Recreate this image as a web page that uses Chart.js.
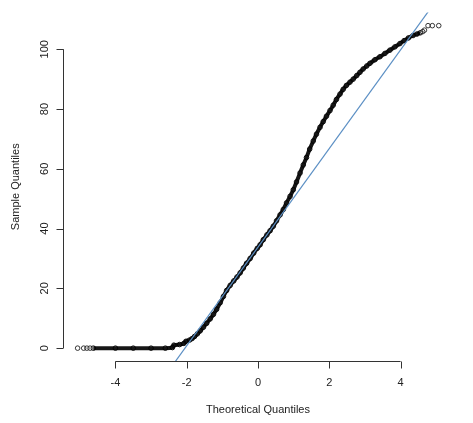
<!DOCTYPE html>
<html>
<head>
<meta charset="utf-8">
<script src="https://cdn.jsdelivr.net/npm/chart.js@4.4.1/dist/chart.umd.min.js"></script>
<style>
  body { margin: 0; background: #fff; }
  #box { width: 473px; height: 423px; position: relative; }
</style>
</head>
<body>
<div id="box"><canvas id="qq-chart"></canvas></div>
<script>
// theoretical quantiles / sample quantiles
const theoretical = [
  -4.62, -4.0, -3.5, -3.0, -2.6, -2.40, -2.36, -2.2, -2.08, -2.02,
  -1.92, -1.85, -1.78, -1.70, -1.62, -1.53, -1.44, -1.34, -1.25, -1.16,
  -1.06, -0.97, -0.88, -0.78, -0.68, -0.59, -0.50, -0.41, -0.32, -0.22,
  -0.12, -0.02, 0.06, 0.15, 0.25, 0.34, 0.43, 0.52, 0.62, 0.71,
  0.80, 0.90, 0.99, 1.08, 1.18, 1.27, 1.36, 1.45, 1.55, 1.64,
  1.74, 1.83, 1.92, 2.02, 2.11, 2.20, 2.30, 2.39, 2.48, 2.58,
  2.67, 2.77, 2.86, 2.95, 3.05, 3.14, 3.28, 3.42, 3.56, 3.70,
  3.84, 3.98, 4.10, 4.22, 4.35, 4.46, 4.55
];
const sample = [
  0, 0, 0, 0, 0, 0.2, 1.0, 1.2, 1.6, 2.3,
  2.7, 3.2, 3.9, 4.8, 5.8, 7.0, 8.3, 9.8, 11.3, 13.0,
  15.2, 17.3, 19.3, 21.0, 22.5, 23.8, 25.2, 26.8, 28.4, 30.0,
  31.8, 33.4, 34.6, 36.3, 37.9, 39.3, 40.8, 42.6, 44.6, 46.4,
  48.6, 50.8, 53.0, 55.6, 58.6, 61.3, 63.8, 66.6, 69.3, 71.6,
  73.9, 75.8, 77.6, 79.5, 81.3, 83.2, 85.0, 86.6, 87.9, 89.0,
  90.0, 91.2, 92.3, 93.4, 94.4, 95.3, 96.5, 97.5, 98.6, 99.7,
  100.8, 101.9, 102.9, 103.8, 104.6, 105.1, 105.5
];

// the few loose points at both ends
const tailX = [-5.06, -4.89, -4.80, -4.71, 4.62, 4.67, 4.77, 4.89, 5.07];
const tailY = [0, 0, 0, 0, 105.9, 106.4, 107.9, 107.9, 107.9];

// qqline end points
const lineX = [-2.6, 5.0];
const lineY = [-9.1, 116.3];

const xTicks = [-4, -2, 0, 2, 4];
const yTicks = [0, 20, 40, 60, 80, 100];

const toPoints = (xs, ys) => xs.map((x, i) => ({ x: x, y: ys[i] }));

const fontName = "'Liberation Sans', Arial, sans-serif";

// R style axes: line only between the first and last tick
const rAxes = {
  id: "rAxes",
  afterDraw(chart) {
    const ctx = chart.ctx;
    const area = chart.chartArea;
    const xs = chart.scales.x;
    const ys = chart.scales.y;
    ctx.save();
    ctx.strokeStyle = "#333";
    ctx.fillStyle = "#222";
    ctx.lineWidth = 1;
    ctx.font = "11px " + fontName;

    // x axis
    const xb = Math.round(area.bottom) + 0.5;
    ctx.beginPath();
    ctx.moveTo(xs.getPixelForValue(xTicks[0]), xb);
    ctx.lineTo(xs.getPixelForValue(xTicks[xTicks.length - 1]), xb);
    xTicks.forEach((t) => {
      const px = Math.round(xs.getPixelForValue(t)) + 0.5;
      ctx.moveTo(px, xb);
      ctx.lineTo(px, xb + 7);
    });
    ctx.stroke();
    ctx.textAlign = "center";
    ctx.textBaseline = "middle";
    xTicks.forEach((t) => {
      ctx.fillText(String(t), xs.getPixelForValue(t), xb + 21);
    });
    ctx.fillText("Theoretical Quantiles", (area.left + area.right) / 2, xb + 48);

    // y axis
    const yl = Math.round(area.left) + 0.5;
    ctx.beginPath();
    ctx.moveTo(yl, ys.getPixelForValue(yTicks[0]));
    ctx.lineTo(yl, ys.getPixelForValue(yTicks[yTicks.length - 1]));
    yTicks.forEach((t) => {
      const py = Math.round(ys.getPixelForValue(t)) + 0.5;
      ctx.moveTo(yl, py);
      ctx.lineTo(yl - 7, py);
    });
    ctx.stroke();
    yTicks.forEach((t) => {
      ctx.save();
      ctx.translate(yl - 19, ys.getPixelForValue(t));
      ctx.rotate(-Math.PI / 2);
      ctx.fillText(String(t), 0, 0);
      ctx.restore();
    });
    ctx.save();
    ctx.translate(16, (area.top + area.bottom) / 2);
    ctx.rotate(-Math.PI / 2);
    ctx.fillText("Sample Quantiles", 0, 0);
    ctx.restore();

    ctx.restore();
  },
};

const containerQQ = document.querySelector("#qq-chart").getContext("2d");

const qqChart = new Chart(containerQQ, {
  type: "scatter",
  data: {
    datasets: [
      {
        label: "qqline",
        data: toPoints(lineX, lineY),
        showLine: true,
        borderColor: "#5b8fc4",
        borderWidth: 1.2,
        pointRadius: 0,
        order: 0,
      },
      {
        label: "sample",
        data: toPoints(theoretical, sample),
        showLine: true,
        cubicInterpolationMode: "monotone",
        borderColor: "#161616",
        borderWidth: 4,
        pointRadius: 2.3,
        pointBorderWidth: 0.9,
        pointBorderColor: "#000",
        pointBackgroundColor: "rgba(0,0,0,0)",
        order: 1,
      },
      {
        label: "tails",
        data: toPoints(tailX, tailY),
        showLine: false,
        pointRadius: 2.3,
        pointBorderWidth: 0.9,
        pointBorderColor: "#222",
        pointBackgroundColor: "rgba(0,0,0,0)",
        order: 1,
      },
    ],
  },
  options: {
    responsive: true,
    maintainAspectRatio: false,
    animation: false,
    layout: { padding: { left: 63, right: 20, top: 12.5, bottom: 62 } },
    scales: {
      x: { type: "linear", min: -5.47, max: 5.47, display: false },
      y: { type: "linear", min: -4.3, max: 112.3, display: false },
    },
    plugins: {
      legend: { display: false },
      tooltip: { enabled: false },
    },
  },
  plugins: [rAxes],
});
</script>
</body>
</html>
